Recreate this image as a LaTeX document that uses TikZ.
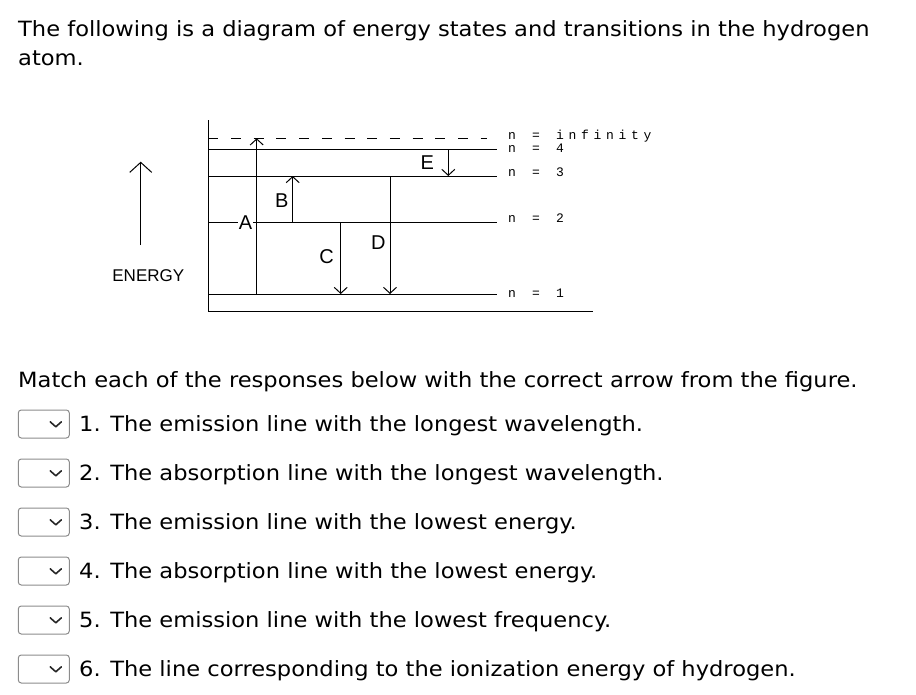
\documentclass[tikz,border=0pt]{standalone}
\usepackage{fontspec}
\setmainfont{DejaVu Sans}
\newfontfamily\txtf{DejaVu Sans}[FakeStretch=1.075]
\newfontfamily\arialf{Liberation Sans}
\newfontfamily\monof{Liberation Mono}[LetterSpace=36]
\usetikzlibrary{arrows.meta}
\newcommand\nlevel[1]{\makebox[24pt][l]{n}\makebox[24pt][l]{=}#1}
\tikzset{
  lvl/.style={line width=1pt},
  barb/.style={line width=1pt,-{Straight Barb[length=6pt,width=13pt,line width=1pt]}},
  bigbarb/.style={line width=1pt,-{Straight Barb[length=10pt,width=22pt,line width=1pt]}},
  lbl/.style={font=\arialf\fontsize{20}{20}\selectfont, inner sep=1pt},
  nlab/.style={font=\monof\fontsize{13}{13}\selectfont, anchor=base west, inner sep=0pt},
  txt/.style={font=\txtf\fontsize{21}{24}\selectfont, anchor=base west, inner sep=0pt},
  ddbox/.style={draw=black!45, rounded corners=3pt, minimum width=51pt, minimum height=28pt, line width=1pt, inner sep=0pt},
  chev/.style={line width=1.6pt, draw=black!85, line cap=round, line join=round}
}
\begin{document}
\begin{tikzpicture}[x=1pt,y=-1pt]
\useasboundingbox (0,0) rectangle (916,694);
% header text
\node[txt] (title1) at (18,36.7) {The following is a diagram of energy states and transitions in the hydrogen};
\node[txt] (title2) at (18,65) {atom.};
% diagram coordinates
\coordinate (axT) at (208.3,120);
\coordinate (axB) at (208.3,311);
\coordinate (botR) at (593,311);
\coordinate (infL) at (208.3,138.3);
\coordinate (infR) at (487,138.3);
\coordinate (l4L) at (208.3,149.3); \coordinate (l4R) at (497,149.3);
\coordinate (l3L) at (208.3,176);   \coordinate (l3R) at (497,176);
\coordinate (l2L) at (208.3,222.7); \coordinate (l2R) at (497,222.7);
\coordinate (l1L) at (208.3,294);   \coordinate (l1R) at (497,294);
\draw[lvl] (axT) -- (axB) -- (botR);
\draw[lvl, dash pattern=on 10pt off 12.7pt] (infL) -- (infR);
\draw[lvl] (l4L) -- (l4R);
\draw[lvl] (l3L) -- (l3R);
\draw[lvl] (l2L) -- (l2R);
\draw[lvl] (l1L) -- (l1R);
% level labels
\node[nlab] (ninf) at (508,139.5) {\nlevel{infinity}};
\node[nlab] (n4) at (508,152) {\nlevel{4}};
\node[nlab] (n3) at (508,176.5) {\nlevel{3}};
\node[nlab] (n2) at (508,222.5) {\nlevel{2}};
\node[nlab] (n1) at (508,297) {\nlevel{1}};
% transition arrows
\coordinate (A0) at (256.7,294);   \coordinate (A1) at (256.7,138.3);
\coordinate (B0) at (292.7,222.7); \coordinate (B1) at (292.7,176);
\coordinate (C0) at (340.7,222.7); \coordinate (C1) at (340.7,294);
\coordinate (D0) at (390,176);     \coordinate (D1) at (390,294);
\coordinate (E0) at (448.3,149.3); \coordinate (E1) at (448.3,176);
\draw[barb] (A0) -- (A1);
\draw[barb] (B0) -- (B1);
\draw[barb] (C0) -- (C1);
\draw[barb] (D0) -- (D1);
\draw[barb] (E0) -- (E1);
\node[lbl, fill=white] (labA) at (245.5,223) {A};
\node[lbl] (labB) at (281.7,200.7) {B};
\node[lbl] (labC) at (326.7,256.7) {C};
\node[lbl] (labD) at (378.3,242.3) {D};
\node[lbl] (labE) at (427.3,162.7) {E};
% energy arrow
\coordinate (en0) at (140.7,245);
\coordinate (en1) at (140.7,161.7);
\draw[bigbarb] (en0) -- (en1);
\node[font=\arialf\fontsize{17}{17}\selectfont, inner sep=0pt] (energy) at (148.3,275.7) {ENERGY};
% questions
\node[txt] (match) at (18,387.3) {Match each of the responses below with the correct arrow from the figure.};
\foreach \i/\t in {1/{1. The emission line with the longest wavelength.},
                   2/{2. The absorption line with the longest wavelength.},
                   3/{3. The emission line with the lowest energy.},
                   4/{4. The absorption line with the lowest energy.},
                   5/{5. The emission line with the lowest frequency.},
                   6/{6. The line corresponding to the ionization energy of hydrogen.}}{
  \node[ddbox] (dd\i) at (43.8,{424+49*(\i-1)}) {};
  \draw[chev] ([shift={(6.4,-2.2)}]dd\i.center) -- ++(5.6,5) -- ++(5.6,-5);
  \node[txt] (q\i) at (79,{431+49*(\i-1)}) {\t};
}
\end{tikzpicture}
\end{document}
